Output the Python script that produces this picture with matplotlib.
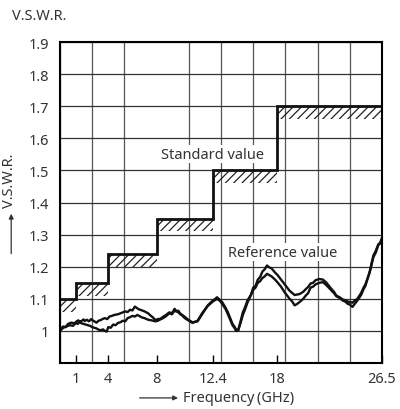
import numpy as np
import matplotlib
matplotlib.use("Agg")
import matplotlib.pyplot as plt

plt.rcParams['font.family'] = ['Noto Sans', 'DejaVu Sans']

# frequency axis: piecewise scale (GHz knots -> grid columns)
ghz_knots = [0, 1, 4, 8, 12.4, 18, 26.5]
col_knots = [0, 0.5, 1.5, 3, 4.75, 6.75, 10]
freq_ticks = [1, 4, 8, 12.4, 18, 26.5]
freq_labels = ['1', '4', '8', '12.4', '18', '26.5']

# standard value steps
std_edges = [0, 1, 4, 8, 12.4, 18, 26.5]
std_values = [1.10, 1.15, 1.24, 1.35, 1.50, 1.70]

# measured reference value curves
f_a = [0.0, 0.2, 0.35, 0.5, 0.7, 0.9, 1.05, 1.2, 1.4, 1.5, 1.7, 1.8, 2.0, 2.2, 2.4,
       2.5, 2.7, 2.9, 3.1, 3.3, 3.5, 3.7, 3.9, 4.1, 4.3, 4.5, 4.8, 5.0, 5.2, 5.4, 5.6,
       5.8, 6.0, 6.2, 6.35, 6.5, 6.8, 7.0, 7.3, 7.5, 7.7, 7.9, 8.1, 8.3, 8.5, 8.7, 9.0,
       9.2, 9.4, 9.55, 9.7, 9.85, 10.0, 10.2, 10.4, 10.8, 11.2, 11.6, 12.0, 12.4, 12.6,
       12.75, 13.0, 13.2, 13.5, 13.7, 13.9, 14.1, 14.3, 14.4, 14.6, 14.8, 15.0, 15.2,
       15.4, 15.7, 15.9, 16.1, 16.3, 16.5, 16.7, 16.9, 17.1, 17.3, 17.5, 17.8, 18.0,
       18.3, 18.6, 19.0, 19.4, 19.8, 20.1, 20.3, 20.5, 20.7, 20.9, 21.1, 21.4, 21.7,
       22.0, 22.3, 22.6, 22.8, 23.1, 23.3, 23.5, 23.7, 23.9, 24.1, 24.3, 24.5, 24.8,
       25.0, 25.15, 25.3, 25.5, 25.8, 26.0, 26.2, 26.35, 26.5]
v_a = [1.005, 1.014, 1.012, 1.022, 1.026, 1.024, 1.030, 1.033, 1.028, 1.031, 1.036,
       1.031, 1.035, 1.030, 1.037, 1.034, 1.030, 1.026, 1.032, 1.034, 1.038, 1.040,
       1.037, 1.045, 1.047, 1.050, 1.052, 1.055, 1.058, 1.061, 1.059, 1.066, 1.064,
       1.076, 1.072, 1.068, 1.064, 1.061, 1.055, 1.048, 1.042, 1.034, 1.037, 1.038,
       1.044, 1.049, 1.058, 1.055, 1.069, 1.062, 1.063, 1.054, 1.050, 1.044, 1.037,
       1.027, 1.030, 1.055, 1.080, 1.095, 1.100, 1.105, 1.097, 1.090, 1.072, 1.058,
       1.040, 1.022, 1.012, 1.005, 1.003, 1.030, 1.058, 1.075, 1.095, 1.112, 1.135,
       1.140, 1.160, 1.168, 1.185, 1.192, 1.204, 1.198, 1.195, 1.182, 1.175, 1.160,
       1.145, 1.125, 1.112, 1.115, 1.122, 1.130, 1.137, 1.148, 1.150, 1.158, 1.162,
       1.160, 1.150, 1.135, 1.122, 1.110, 1.104, 1.098, 1.096, 1.092, 1.090, 1.088,
       1.095, 1.100, 1.118, 1.135, 1.145, 1.160, 1.185, 1.235, 1.250, 1.270, 1.275, 1.290]

f_b = [0.0, 0.2, 0.4, 0.6, 0.8, 1.0, 1.15, 1.3, 1.5, 1.7, 1.9, 2.1, 2.3, 2.5, 2.7,
       2.9, 3.1, 3.3, 3.5, 3.7, 3.85, 4.0, 4.2, 4.4, 4.6, 4.8, 5.0, 5.2, 5.4, 5.6, 5.8,
       6.0, 6.2, 6.4, 6.6, 6.8, 7.0, 7.3, 7.6, 7.9, 8.1, 8.3, 8.5, 8.7, 9.0, 9.2, 9.4,
       9.6, 9.7, 9.85, 10.0, 10.2, 10.4, 10.8, 11.2, 11.6, 12.0, 12.4, 12.75, 13.0, 13.2,
       13.5, 13.7, 13.9, 14.1, 14.3, 14.4, 14.6, 14.8, 15.0, 15.2, 15.4, 15.6, 15.9,
       16.1, 16.3, 16.5, 16.7, 16.9, 17.1, 17.3, 17.5, 17.8, 18.0, 18.3, 18.6, 19.0,
       19.2, 19.4, 19.6, 19.8, 20.1, 20.3, 20.5, 20.7, 20.9, 21.1, 21.4, 21.7, 22.0,
       22.3, 22.6, 22.8, 23.1, 23.3, 23.5, 23.7, 23.9, 24.1, 24.3, 24.5, 24.8, 25.0,
       25.15, 25.3, 25.5, 25.8, 26.0, 26.2, 26.35, 26.5]
v_b = [1.000, 1.010, 1.014, 1.018, 1.016, 1.025, 1.022, 1.027, 1.024, 1.022, 1.020,
       1.018, 1.016, 1.012, 1.010, 1.008, 1.004, 1.002, 1.005, 1.000, 0.998, 1.012,
       1.010, 1.020, 1.018, 1.025, 1.027, 1.032, 1.030, 1.040, 1.043, 1.047, 1.045,
       1.050, 1.046, 1.042, 1.040, 1.035, 1.033, 1.030, 1.032, 1.036, 1.040, 1.045,
       1.055, 1.052, 1.063, 1.060, 1.058, 1.052, 1.048, 1.040, 1.035, 1.025, 1.032,
       1.058, 1.078, 1.092, 1.100, 1.094, 1.085, 1.068, 1.052, 1.035, 1.018, 1.008,
       1.000, 1.002, 1.025, 1.050, 1.068, 1.088, 1.104, 1.128, 1.135, 1.150, 1.155,
       1.165, 1.170, 1.178, 1.174, 1.170, 1.160, 1.152, 1.138, 1.120, 1.100, 1.092,
       1.080, 1.084, 1.090, 1.100, 1.110, 1.118, 1.135, 1.138, 1.145, 1.150, 1.152,
       1.142, 1.130, 1.118, 1.108, 1.102, 1.095, 1.092, 1.085, 1.082, 1.075, 1.085,
       1.095, 1.112, 1.130, 1.140, 1.160, 1.182, 1.230, 1.245, 1.268, 1.272, 1.285]

hatch_depth = 0.04


def fwd(x):
    return np.interp(x, ghz_knots, col_knots)


def inv(u):
    return np.interp(u, col_knots, ghz_knots)


fig = plt.figure(figsize=(4, 4.1), dpi=100)
ax = fig.add_axes([0.15, 0.112, 0.805, 0.783])
ax.set_xscale('function', functions=(fwd, inv))
ax.set_xlim(0, 26.5)
ax.set_ylim(0.9, 1.9)

# grid
grid_x = inv(np.arange(11))
ax.set_xticks(grid_x, minor=True)
ax.set_xticks(freq_ticks, freq_labels)
ax.set_yticks(np.round(np.arange(1.0, 1.91, 0.1), 1),
              ['1'] + [f'{v:.1f}' for v in np.arange(1.1, 1.91, 0.1)])
ax.grid(True, which='minor', axis='x', color='#555555', lw=0.9)
ax.grid(True, which='major', axis='y', color='#333333', lw=0.9)
ax.tick_params(axis='x', which='minor', length=0)
ax.tick_params(axis='x', which='major', direction='in', length=6, width=1,
               pad=6, labelsize=10.5, labelcolor='#333333')
ax.tick_params(axis='y', length=0, pad=8, labelsize=10.5, labelcolor='#333333')
for s in ax.spines.values():
    s.set_linewidth(1.5)
ax.set_axisbelow(True)

# hatched bands below standard steps
plt.rcParams['hatch.linewidth'] = 0.9
for x0, x1, y in zip(std_edges[:-1], std_edges[1:], std_values):
    ax.fill_between([x0, x1], y - hatch_depth, y, facecolor='none',
                    edgecolor='#222222', hatch='////', linewidth=0)
ax.stairs(std_values, std_edges, baseline=None, color='#111111', lw=2)

ax.plot(f_a, v_a, color='#111111', lw=1.7)
ax.plot(f_b, v_b, color='#111111', lw=1.7)

ax.text(12.4, 1.55, 'Standard value', ha='center', va='center', fontsize=10.5,
        color='#333333', bbox=dict(facecolor='white', edgecolor='none', pad=1))
ax.text(18.4, 1.245, 'Reference value', ha='center', va='center', fontsize=10.5,
        color='#333333', bbox=dict(facecolor='white', edgecolor='none', pad=1))

fig.text(0.03, 0.96, 'V.S.W.R.', ha='left', va='center', fontsize=10.5, color='#333333')
fig.text(0.025, 0.56, 'V.S.W.R.', rotation=90, ha='center', va='center',
         fontsize=10.5, color='#333333')
fig.add_artist(matplotlib.patches.FancyArrowPatch(
    (0.028, 0.372), (0.028, 0.483), transform=fig.transFigure,
    arrowstyle='-|>', mutation_scale=7, color='#333333', lw=0.9))
fig.add_artist(matplotlib.patches.FancyArrowPatch(
    (0.342, 0.027), (0.452, 0.027), transform=fig.transFigure,
    arrowstyle='-|>', mutation_scale=7, color='#333333', lw=0.9))
fig.text(0.457, 0.027, 'Frequency\u2009(GHz)', ha='left', va='center', fontsize=10.5,
         color='#333333')

fig.savefig('out.png', dpi=100)
